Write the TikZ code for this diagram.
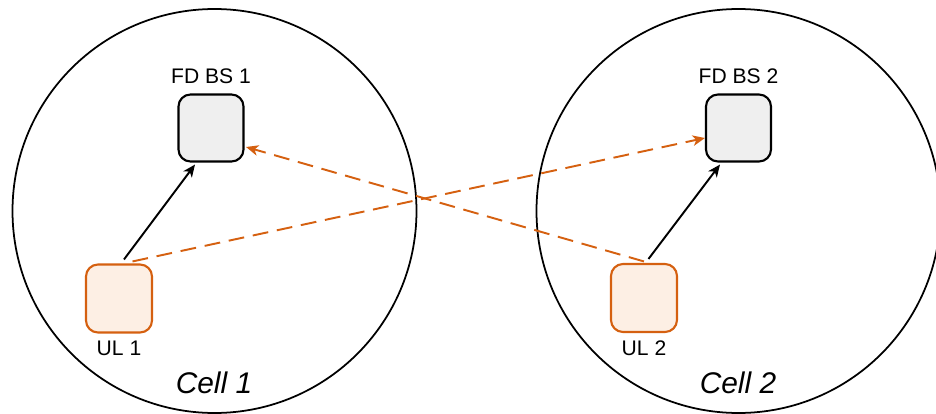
\documentclass[tikz,border=0pt]{standalone}
\usepackage{fontspec}
\setmainfont{Liberation Sans}
\usepackage{xcolor}
\usepackage{tikz}
\usetikzlibrary{arrows.meta,positioning}

\definecolor{ulorange}{RGB}{213,96,16}
\definecolor{ulfill}{RGB}{253,239,228}
\definecolor{bsfill}{RGB}{239,239,239}

\begin{document}
\begin{tikzpicture}[
  cell/.style={circle, draw, line width=1pt, minimum size=8.08cm, inner sep=0pt},
  bs/.style={rectangle, draw, rounded corners=0.24cm, line width=1.2pt, fill=bsfill, minimum width=1.3cm, minimum height=1.34cm},
  ue/.style={rectangle, draw=ulorange, rounded corners=0.24cm, line width=1.2pt, fill=ulfill, minimum width=1.32cm, minimum height=1.36cm},
  lbl/.style={font=\fontsize{12}{14}\selectfont, inner sep=0pt},
  celllbl/.style={font=\fontsize{17}{20}\selectfont\itshape, inner sep=0pt, anchor=base},
  direct/.style={-{Stealth[length=7pt,width=6pt,inset=2pt]}, line width=1.1pt},
  cross/.style={-{Stealth[length=7pt,width=6pt,inset=2pt]}, draw=ulorange, line width=1.1pt, dash pattern=on 9pt off 5pt}
]
\useasboundingbox (0,0) rectangle (18.72,-8.28);

\node[cell] (cell1) at (4.29,-4.22) {};
\node[cell] (cell2) at (14.77,-4.22) {};

\node[bs] (bs1) at (4.22,-2.56) {};
\node[bs] (bs2) at (14.77,-2.56) {};
\node[ue] (ul1) at (2.38,-5.97) {};
\node[ue] (ul2) at (12.88,-5.96) {};

\node[lbl, above=0.18cm of bs1] (bs1lbl) {FD BS 1};
\node[lbl, above=0.18cm of bs2] (bs2lbl) {FD BS 2};
\node[lbl, below=0.14cm of ul1] (ul1lbl) {UL 1};
\node[lbl, below=0.14cm of ul2] (ul2lbl) {UL 2};

\node[celllbl] (cell1lbl) at (4.28,-7.86) {Cell 1};
\node[celllbl] (cell2lbl) at (14.76,-7.86) {Cell 2};

\draw[direct] ([xshift=0.1cm,yshift=0.08cm]ul1.north) -- ([xshift=-0.32cm,yshift=-0.04cm]bs1.south);
\draw[direct] ([xshift=0.09cm,yshift=0.08cm]ul2.north) -- ([xshift=-0.37cm,yshift=-0.04cm]bs2.south);
\draw[cross] ([xshift=0.27cm,yshift=0.04cm]ul1.north) -- ([yshift=-0.2cm]bs2.west);
\draw[cross] ([yshift=0.03cm]ul2.north) -- ([xshift=0.03cm,yshift=-0.38cm]bs1.east);
\end{tikzpicture}
\end{document}
